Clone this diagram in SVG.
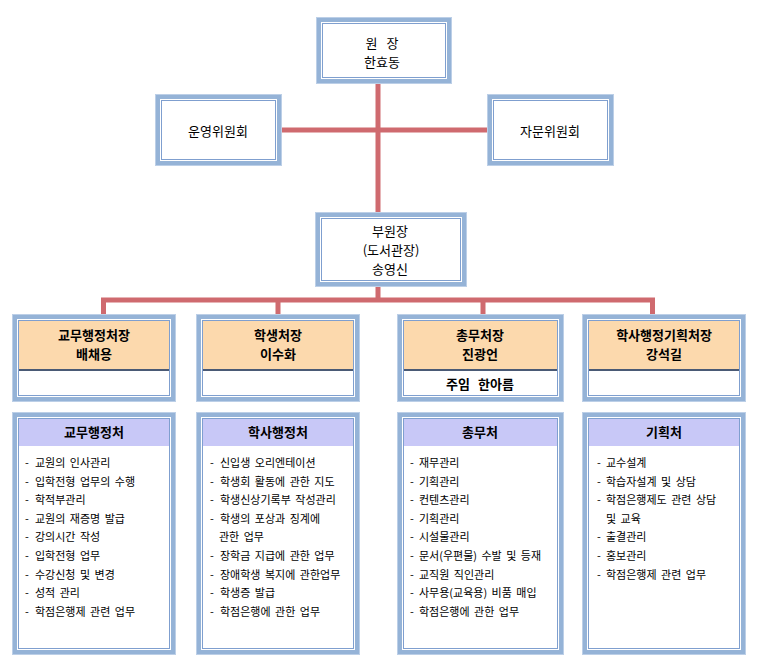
<svg xmlns="http://www.w3.org/2000/svg" width="758" height="661" viewBox="0 0 758 661">
<style>
.band{fill:#95b3d7;stroke:#bccfe7;stroke-width:1}
.gap{fill:#ffffff}
.inner{fill:#ffffff;stroke:#7f9fcf;stroke-width:1}
.org{fill:#fcd9ad}
.lav{fill:#c8c8f7}
.sep{stroke:#4a5a75;stroke-width:2}
.conn{stroke:#cf6a6f;stroke-width:5;fill:none}
text{font-family:"Noto Sans CJK KR","Noto Sans",sans-serif;fill:#000}
.t{font-size:13px;text-anchor:middle}
.b{font-weight:700}
.li{font-size:11px;word-spacing:2px}
</style>
<rect width="758" height="661" fill="#ffffff"/>
<g id="connectors">
<path class="conn" d="M378,84V212M282,130H487"/>
<path class="conn" d="M378,287V300M101,300H655M103.5,300V314M278,300V314M483,300V314M652.5,300V314"/>
</g>
<g id="director">
<rect class="band" x="316.5" y="17.5" width="135" height="66"/>
<rect class="gap" x="321" y="22" width="126" height="57"/>
<rect class="inner" x="322.5" y="23.5" width="123" height="54"/>
<text class="t" x="382" y="48" style="word-spacing:6px">원 장</text>
<text class="t" x="382" y="67">한효동</text>
</g>
<g id="operating-committee">
<rect class="band" x="155.5" y="94.5" width="126" height="71"/>
<rect class="gap" x="160" y="99" width="117" height="62"/>
<rect class="inner" x="161.5" y="100.5" width="114" height="59"/>
<text class="t" x="218" y="136">운영위원회</text>
</g>
<g id="advisory-committee">
<rect class="band" x="487.5" y="94.5" width="126" height="71"/>
<rect class="gap" x="492" y="99" width="117" height="62"/>
<rect class="inner" x="493.5" y="100.5" width="114" height="59"/>
<text class="t" x="550" y="136">자문위원회</text>
</g>
<g id="vice-director">
<rect class="band" x="315.5" y="212.5" width="151" height="74"/>
<rect class="gap" x="320" y="217" width="142" height="65"/>
<rect class="inner" x="321.5" y="218.5" width="139" height="62"/>
<text class="t" x="390" y="236">부원장</text>
<text class="t" x="391" y="255">(도서관장)</text>
<text class="t" x="390" y="274">송영신</text>
</g>
<g id="head-academic">
<rect class="band" x="12.5" y="314.5" width="163" height="87"/>
<rect class="gap" x="17" y="319" width="154" height="78"/>
<rect class="inner" x="18.5" y="320.5" width="151" height="75"/>
<rect class="org" x="19" y="321" width="150" height="48"/>
<line class="sep" x1="19" y1="370" x2="169" y2="370"/>
<text class="t b" x="94" y="340">교무행정처장</text>
<text class="t b" x="94" y="359">배채용</text>
</g>
<g id="head-student">
<rect class="band" x="196.5" y="314.5" width="163" height="87"/>
<rect class="gap" x="201" y="319" width="154" height="78"/>
<rect class="inner" x="202.5" y="320.5" width="151" height="75"/>
<rect class="org" x="203" y="321" width="150" height="48"/>
<line class="sep" x1="203" y1="370" x2="353" y2="370"/>
<text class="t b" x="278" y="340">학생처장</text>
<text class="t b" x="278" y="359">이수화</text>
</g>
<g id="head-general">
<rect class="band" x="397.5" y="314.5" width="166" height="87"/>
<rect class="gap" x="402" y="319" width="157" height="78"/>
<rect class="inner" x="403.5" y="320.5" width="154" height="75"/>
<rect class="org" x="404" y="321" width="153" height="48"/>
<line class="sep" x1="404" y1="370" x2="557" y2="370"/>
<text class="t b" x="480" y="340">총무처장</text>
<text class="t b" x="480" y="359">진광언</text>
<text class="t b" x="480" y="389" style="word-spacing:5px">주임 한아름</text>
</g>
<g id="head-planning">
<rect class="band" x="582.5" y="314.5" width="163" height="87"/>
<rect class="gap" x="587" y="319" width="154" height="78"/>
<rect class="inner" x="588.5" y="320.5" width="151" height="75"/>
<rect class="org" x="589" y="321" width="150" height="48"/>
<line class="sep" x1="589" y1="370" x2="739" y2="370"/>
<text class="t b" x="664" y="340">학사행정기획처장</text>
<text class="t b" x="664" y="359">강석길</text>
</g>
<g id="dept-academic">
<rect class="band" x="12.5" y="412.5" width="163" height="242"/>
<rect class="gap" x="17" y="417" width="154" height="233"/>
<rect class="inner" x="18.5" y="418.5" width="151" height="230"/>
<rect class="lav" x="19" y="419" width="150" height="27"/>
<text class="t b" x="94" y="437">교무행정처</text>
<text class="li" y="467"><tspan x="25">-</tspan><tspan x="35">교원의 인사관리</tspan></text>
<text class="li" y="485.6"><tspan x="25">-</tspan><tspan x="35">입학전형 업무의 수행</tspan></text>
<text class="li" y="504.2"><tspan x="25">-</tspan><tspan x="35">학적부관리</tspan></text>
<text class="li" y="522.8"><tspan x="25">-</tspan><tspan x="35">교원의 재증명 발급</tspan></text>
<text class="li" y="541.4"><tspan x="25">-</tspan><tspan x="35">강의시간 작성</tspan></text>
<text class="li" y="560"><tspan x="25">-</tspan><tspan x="35">입학전형 업무</tspan></text>
<text class="li" y="578.6"><tspan x="25">-</tspan><tspan x="35">수강신청 및 변경</tspan></text>
<text class="li" y="597.2"><tspan x="25">-</tspan><tspan x="35">성적 관리</tspan></text>
<text class="li" y="615.8"><tspan x="25">-</tspan><tspan x="35">학점은행제 관련 업무</tspan></text>
</g>
<g id="dept-student">
<rect class="band" x="196.5" y="412.5" width="163" height="242"/>
<rect class="gap" x="201" y="417" width="154" height="233"/>
<rect class="inner" x="202.5" y="418.5" width="151" height="230"/>
<rect class="lav" x="203" y="419" width="150" height="27"/>
<text class="t b" x="278" y="437">학사행정처</text>
<text class="li" y="467"><tspan x="210">-</tspan><tspan x="220">신입생 오리엔테이션</tspan></text>
<text class="li" y="485.6"><tspan x="210">-</tspan><tspan x="220">학생회 활동에 관한 지도</tspan></text>
<text class="li" y="504.2"><tspan x="210">-</tspan><tspan x="220">학생신상기록부 작성관리</tspan></text>
<text class="li" y="522.8"><tspan x="210">-</tspan><tspan x="220">학생의 포상과 징계에</tspan></text>
<text class="li" x="219" y="541.4">관한 업무</text>
<text class="li" y="560"><tspan x="210">-</tspan><tspan x="220">장학금 지급에 관한 업무</tspan></text>
<text class="li" y="578.6"><tspan x="210">-</tspan><tspan x="220">장애학생 복지에 관한업무</tspan></text>
<text class="li" y="597.2"><tspan x="210">-</tspan><tspan x="220">학생증 발급</tspan></text>
<text class="li" y="615.8"><tspan x="210">-</tspan><tspan x="220">학점은행에 관한 업무</tspan></text>
</g>
<g id="dept-general">
<rect class="band" x="397.5" y="412.5" width="166" height="242"/>
<rect class="gap" x="402" y="417" width="157" height="233"/>
<rect class="inner" x="403.5" y="418.5" width="154" height="230"/>
<rect class="lav" x="404" y="419" width="153" height="27"/>
<text class="t b" x="480" y="437">총무처</text>
<text class="li" y="467"><tspan x="410">-</tspan><tspan x="419">재무관리</tspan></text>
<text class="li" y="485.6"><tspan x="410">-</tspan><tspan x="419">기획관리</tspan></text>
<text class="li" y="504.2"><tspan x="410">-</tspan><tspan x="419">컨텐츠관리</tspan></text>
<text class="li" y="522.8"><tspan x="410">-</tspan><tspan x="419">기획관리</tspan></text>
<text class="li" y="541.4"><tspan x="410">-</tspan><tspan x="419">시설물관리</tspan></text>
<text class="li" y="560"><tspan x="410">-</tspan><tspan x="419">문서(우편물) 수발 및 등재</tspan></text>
<text class="li" y="578.6"><tspan x="410">-</tspan><tspan x="419">교직원 직인관리</tspan></text>
<text class="li" y="597.2"><tspan x="410">-</tspan><tspan x="419">사무용(교육용) 비품 매입</tspan></text>
<text class="li" y="615.8"><tspan x="410">-</tspan><tspan x="419">학점은행에 관한 업무</tspan></text>
</g>
<g id="dept-planning">
<rect class="band" x="582.5" y="412.5" width="163" height="242"/>
<rect class="gap" x="587" y="417" width="154" height="233"/>
<rect class="inner" x="588.5" y="418.5" width="151" height="230"/>
<rect class="lav" x="589" y="419" width="150" height="27"/>
<text class="t b" x="664" y="437">기획처</text>
<text class="li" y="467"><tspan x="597">-</tspan><tspan x="606">교수설계</tspan></text>
<text class="li" y="485.6"><tspan x="597">-</tspan><tspan x="606">학습자설계 및 상담</tspan></text>
<text class="li" y="504.2"><tspan x="597">-</tspan><tspan x="606">학점은행제도 관련 상담</tspan></text>
<text class="li" x="606" y="522.8">및 교육</text>
<text class="li" y="541.4"><tspan x="597">-</tspan><tspan x="606">출결관리</tspan></text>
<text class="li" y="560"><tspan x="597">-</tspan><tspan x="606">홍보관리</tspan></text>
<text class="li" y="578.6"><tspan x="597">-</tspan><tspan x="606">학점은행제 관련 업무</tspan></text>
</g>
</svg>
